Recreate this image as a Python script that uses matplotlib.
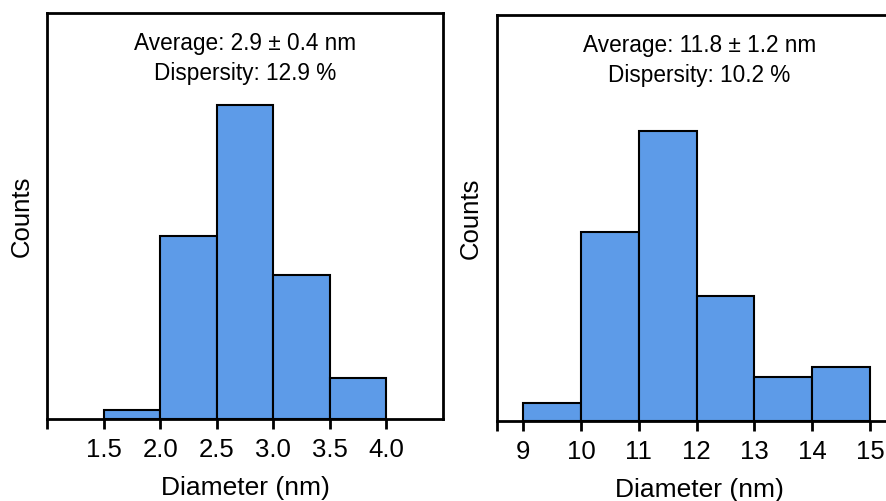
"""
Particle size histograms: two panels with diameter distributions.
"""

import matplotlib.pyplot as plt

plt.rcParams["font.family"] = ["Liberation Sans", "DejaVu Sans"]

# Left panel data (bin edges in nm, counts)
LEFT_EDGES = [1.5, 2.0, 2.5, 3.0, 3.5, 4.0]
LEFT_COUNTS = [2.1, 42, 72, 33, 9.4]
LEFT_TICKS = [1.0, 1.5, 2.0, 2.5, 3.0, 3.5, 4.0]
LEFT_TICK_LABELS = ["", "1.5", "2.0", "2.5", "3.0", "3.5", "4.0"]
LEFT_TEXT = ["Average: 2.9 \u00b1 0.4 nm", "Dispersity: 12.9 %"]

# Right panel data
RIGHT_EDGES = [9, 10, 11, 12, 13, 14, 15]
RIGHT_COUNTS = [4.5, 47, 72, 31, 11, 13.4]
RIGHT_TICKS = [8.55, 9, 10, 11, 12, 13, 14, 15]
RIGHT_TICK_LABELS = ["", "9", "10", "11", "12", "13", "14", "15"]
RIGHT_TEXT = ["Average: 11.8 \u00b1 1.2 nm", "Dispersity: 10.2 %"]

BAR_COLOR = "#5D9BE8"


def draw_panel(ax, edges, counts, ticks, tick_labels, text, xlim, ylim):
    widths = [b - a for a, b in zip(edges[:-1], edges[1:])]
    ax.bar(edges[:-1], counts, width=widths, align="edge",
           color=BAR_COLOR, edgecolor="black", linewidth=1.5)
    ax.set_xlim(xlim)
    ax.set_ylim(ylim)
    ax.set_xticks(ticks)
    ax.set_xticklabels(tick_labels, fontsize=18.5)
    ax.set_yticks([])
    ax.tick_params(axis="x", direction="out", length=7, width=2, pad=7)
    for sp in ax.spines.values():
        sp.set_linewidth(2)
    ax.set_ylabel("Counts", fontsize=18.5)
    ax.yaxis.set_label_coords(-0.034, 0.5)
    ax.set_xlabel("Diameter (nm)", fontsize=19)
    ax.xaxis.set_label_coords(0.5, -0.14)
    ax.text(0.5, 0.925, text[0], transform=ax.transAxes,
            ha="center", va="center", fontsize=16.3)
    ax.text(0.5, 0.852, text[1], transform=ax.transAxes,
            ha="center", va="center", fontsize=16.3)


fig = plt.figure(figsize=(8.87, 5.01), dpi=100)
ax1 = fig.add_axes([47 / 887, 82 / 501, 396 / 887, 406 / 501])
ax2 = fig.add_axes([497 / 887, 80 / 501, 405 / 887, 406 / 501])

draw_panel(ax1, LEFT_EDGES, LEFT_COUNTS, LEFT_TICKS, LEFT_TICK_LABELS,
           LEFT_TEXT, (1.0, 4.5), (0, 93.1))
draw_panel(ax2, RIGHT_EDGES, RIGHT_COUNTS, RIGHT_TICKS, RIGHT_TICK_LABELS,
           RIGHT_TEXT, (8.55, 15.55), (0, 100.8))

fig.savefig("out.png", dpi=100)
